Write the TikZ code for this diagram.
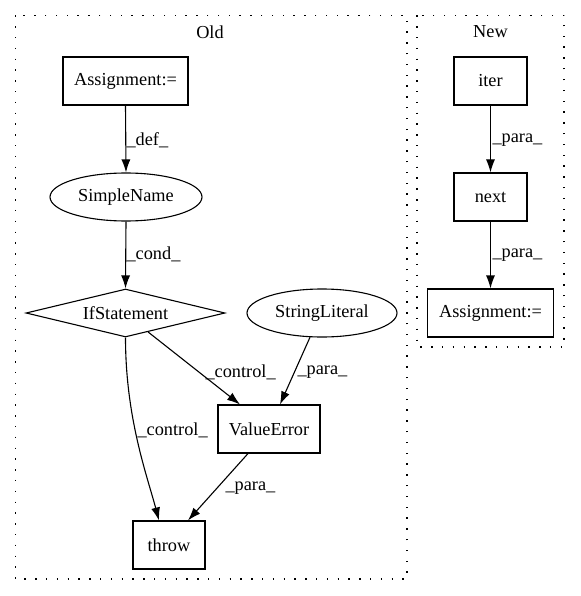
\documentclass[tikz,border=0pt]{standalone}
\usepackage{fontspec}
\setmainfont{Liberation Serif}
\usetikzlibrary{arrows.meta,shapes.geometric,calc}

\tikzset{
    box/.style={draw, rectangle, inner sep=0pt, minimum height=48pt},
    oval/.style={draw, ellipse, inner sep=0pt, minimum height=48pt},
    cond/.style={draw, diamond, inner sep=0pt, aspect=4, minimum width=199pt, minimum height=48pt},
    edge/.style={-{Latex[length=13pt,width=9pt]}},
    lab/.style={anchor=west, inner sep=0pt},
    cluster/.style={draw, line width=1.3pt, dash pattern=on 1.4pt off 9.4pt},
}

\begin{document}
\begin{tikzpicture}[x=1pt, y=-1pt, font=\fontsize{18.3pt}{21pt}\selectfont, line width=1.1pt]

    \useasboundingbox (0,0) rectangle (580,596);

    % clusters
    \draw[cluster] (15.5,15.5) rectangle (407,579);
    \node at (210,32) {Old};
    \draw[cluster] (417,15.5) rectangle (564,347);
    \node at (490.5,32) {New};

    % old graph
    \node[box, minimum width=125pt] (assign) at (125.5,81) {Assignment:=};
    \node[oval, minimum width=152pt] (simple) at (126,197) {SimpleName};
    \node[cond] (if) at (125.5,313) {IfStatement};
    \node[oval, minimum width=150pt] (str) at (322,313) {StringLiteral};
    \node[box, minimum width=102pt] (valerr) at (269,429) {ValueError};
    \node[box, minimum width=72pt] (throw) at (169,545) {throw};

    \draw[edge] (assign.south) -- (simple.north);
    \node[lab] at (126,140) {\_def\_};

    \draw[edge] (simple.south) -- (if.north);
    \node[lab] at (126,254) {\_cond\_};

    \draw[edge] ($(if.south)!0.226!(if.east)$) -- ($(valerr.north)+(-29,0)$);
    \node[lab] at (205,372) {\_control\_};

    \draw[edge] ($(str.south)+(-12,-0.3)$) -- ($(valerr.north)+(11,0)$);
    \node[lab] at (297,372) {\_para\_};

    \draw[edge] (if.south) .. controls +(0,80) and +(-12,-45) .. ($(throw.north)+(-10,0)$);
    \node[lab] at (137,430) {\_control\_};

    \draw[edge] ($(valerr.south)+(-21,0)$) -- ($(throw.north)+(19,0)$);
    \node[lab] at (225,488) {\_para\_};

    % new graph
    \node[box, minimum width=73pt] (iter) at (490.5,81) {iter};
    \node[box, minimum width=73pt] (next) at (490.5,197) {next};
    \node[box, minimum width=126pt] (assignN) at (490.5,313) {Assignment:=};

    \draw[edge] (iter) -- (next);
    \node[lab] at (492,140) {\_para\_};

    \draw[edge] (next) -- (assignN);
    \node[lab] at (492,255) {\_para\_};

\end{tikzpicture}
\end{document}
